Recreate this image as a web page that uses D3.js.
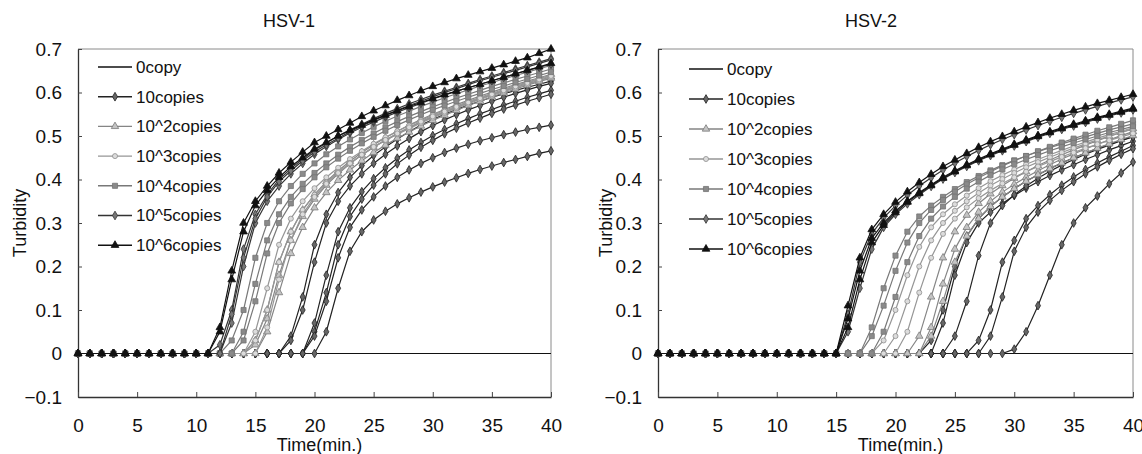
<!DOCTYPE html>
<html>
<head>
<meta charset="utf-8">
<script src="https://cdn.jsdelivr.net/npm/d3@7"></script>
<style>
  body { margin: 0; background: #fff; }
  text { font-family: Arial, "Liberation Sans", sans-serif; fill: #111; }
</style>
</head>
<body>
<svg id="chart" width="1142" height="454"></svg>
<script>

// Time points (min.), one reading per minute
var minutes = [0,1,2,3,4,5,6,7,8,9,10,11,12,13,14,15,16,17,18,19,20,
               21,22,23,24,25,26,27,28,29,30,31,32,33,34,35,36,37,38,39,40];

var seriesNames = ["0copy", "10copies", "10^2copies", "10^3copies",
                   "10^4copies", "10^5copies", "10^6copies"];

var xTicks = [0, 5, 10, 15, 20, 25, 30, 35, 40];
var yTicks = [-0.1, 0, 0.1, 0.2, 0.3, 0.4, 0.5, 0.6, 0.7];

// ---------------- HSV-1 replicate curves ----------------
var hsv1Copy0 = [
  [0,0,0,0,0,0,0,0,0,0,0,0,0,0,0,0,0,0,0,0,0,0,0,0,0,0,0,0,0,0,0,0,0,0,0,0,0,0,0,0,0]
];
var hsv1Copy10 = [
  [0,0,0,0,0,0,0,0,0,0,0,0,0,0,0,0,0,0, 0.04,0.13,0.25,0.32,0.37,0.405,0.432,0.455,0.475,0.493,0.51,0.525,0.538,0.55,0.561,0.571,0.58,0.589,0.597,0.605,0.612,0.619,0.626],
  [0,0,0,0,0,0,0,0,0,0,0,0,0,0,0,0,0,0, 0.03,0.10,0.21,0.30,0.35,0.385,0.413,0.437,0.458,0.477,0.494,0.51,0.524,0.537,0.549,0.56,0.57,0.58,0.589,0.598,0.606,0.614,0.621],
  [0,0,0,0,0,0,0,0,0,0,0,0,0,0,0,0,0,0,0,0, 0.07,0.18,0.28,0.335,0.372,0.402,0.427,0.449,0.468,0.485,0.501,0.515,0.528,0.54,0.551,0.561,0.571,0.58,0.589,0.597,0.605],
  [0,0,0,0,0,0,0,0,0,0,0,0,0,0,0,0,0,0,0,0, 0.05,0.14,0.25,0.315,0.355,0.387,0.413,0.436,0.456,0.474,0.49,0.505,0.518,0.53,0.541,0.552,0.562,0.571,0.58,0.588,0.596],
  [0,0,0,0,0,0,0,0,0,0,0,0,0,0,0,0,0,0,0,0, 0.04,0.12,0.22,0.29,0.33,0.36,0.385,0.405,0.422,0.437,0.45,0.462,0.472,0.481,0.489,0.496,0.503,0.509,0.515,0.52,0.525],
  [0,0,0,0,0,0,0,0,0,0,0,0,0,0,0,0,0,0,0,0,0, 0.05,0.15,0.235,0.28,0.307,0.327,0.344,0.358,0.371,0.383,0.394,0.404,0.414,0.423,0.431,0.439,0.446,0.453,0.46,0.466]
];
var hsv1Copy1e2 = [
  [0,0,0,0,0,0,0,0,0,0,0,0,0,0,0, 0.03,0.10,0.21,0.28,0.33,0.365,0.395,0.42,0.442,0.462,0.48,0.496,0.511,0.525,0.538,0.55,0.561,0.572,0.582,0.592,0.601,0.61,0.618,0.626,0.634,0.642],
  [0,0,0,0,0,0,0,0,0,0,0,0,0,0,0, 0.02,0.08,0.18,0.26,0.315,0.355,0.387,0.413,0.436,0.456,0.474,0.49,0.505,0.519,0.532,0.544,0.555,0.566,0.576,0.586,0.595,0.604,0.612,0.62,0.628,0.636],
  [0,0,0,0,0,0,0,0,0,0,0,0,0,0,0,0, 0.05,0.14,0.23,0.29,0.335,0.37,0.398,0.422,0.443,0.462,0.479,0.495,0.509,0.523,0.536,0.548,0.559,0.57,0.58,0.59,0.599,0.608,0.617,0.625,0.633]
];
var hsv1Copy1e3 = [
  [0,0,0,0,0,0,0,0,0,0,0,0,0,0,0, 0.05,0.15,0.25,0.31,0.35,0.38,0.405,0.427,0.447,0.465,0.482,0.497,0.511,0.524,0.536,0.548,0.559,0.569,0.579,0.589,0.598,0.607,0.616,0.624,0.632,0.64],
  [0,0,0,0,0,0,0,0,0,0,0,0,0,0,0, 0.03,0.10,0.21,0.28,0.33,0.365,0.393,0.417,0.438,0.457,0.474,0.49,0.504,0.517,0.53,0.542,0.553,0.564,0.574,0.584,0.593,0.602,0.611,0.619,0.627,0.635],
  [0,0,0,0,0,0,0,0,0,0,0,0,0,0,0,0, 0.06,0.17,0.26,0.32,0.36,0.39,0.415,0.437,0.457,0.475,0.491,0.506,0.52,0.533,0.545,0.556,0.567,0.577,0.587,0.596,0.605,0.614,0.622,0.63,0.638]
];
var hsv1Copy1e4 = [
  [0,0,0,0,0,0,0,0,0,0,0,0,0, 0.03,0.10,0.22,0.30,0.35,0.385,0.413,0.437,0.458,0.476,0.492,0.507,0.521,0.534,0.546,0.557,0.568,0.578,0.588,0.597,0.606,0.615,0.623,0.631,0.639,0.647,0.655,0.662],
  [0,0,0,0,0,0,0,0,0,0,0,0,0,0, 0.05,0.16,0.26,0.32,0.36,0.39,0.415,0.437,0.457,0.475,0.491,0.506,0.52,0.533,0.545,0.556,0.567,0.577,0.587,0.596,0.605,0.614,0.622,0.63,0.638,0.646,0.654],
  [0,0,0,0,0,0,0,0,0,0,0,0,0,0, 0.03,0.12,0.23,0.30,0.345,0.378,0.405,0.428,0.448,0.466,0.483,0.498,0.512,0.525,0.537,0.549,0.56,0.57,0.58,0.589,0.598,0.607,0.615,0.623,0.631,0.639,0.647]
];
var hsv1Copy1e5 = [
  [0,0,0,0,0,0,0,0,0,0,0,0, 0.02,0.10,0.24,0.32,0.365,0.40,0.425,0.447,0.467,0.484,0.50,0.514,0.527,0.54,0.552,0.563,0.574,0.584,0.594,0.603,0.612,0.621,0.63,0.638,0.646,0.654,0.662,0.67,0.678],
  [0,0,0,0,0,0,0,0,0,0,0,0,0, 0.07,0.20,0.30,0.35,0.385,0.413,0.437,0.458,0.476,0.492,0.507,0.52,0.532,0.544,0.555,0.565,0.575,0.585,0.594,0.603,0.611,0.619,0.627,0.635,0.643,0.651,0.658,0.665],
  [0,0,0,0,0,0,0,0,0,0,0,0,0, 0.09,0.22,0.31,0.36,0.395,0.42,0.443,0.463,0.48,0.495,0.51,0.523,0.536,0.548,0.559,0.57,0.58,0.59,0.60,0.609,0.618,0.627,0.635,0.643,0.651,0.659,0.667,0.675]
];
var hsv1Copy1e6 = [
  [0,0,0,0,0,0,0,0,0,0,0,0, 0.06,0.19,0.30,0.35,0.385,0.415,0.44,0.463,0.485,0.50,0.515,0.53,0.545,0.558,0.57,0.582,0.593,0.604,0.614,0.623,0.632,0.64,0.648,0.656,0.664,0.672,0.68,0.69,0.70],
  [0,0,0,0,0,0,0,0,0,0,0,0, 0.05,0.17,0.28,0.34,0.375,0.405,0.43,0.45,0.47,0.485,0.50,0.513,0.525,0.537,0.548,0.558,0.568,0.577,0.586,0.595,0.603,0.611,0.619,0.627,0.635,0.643,0.651,0.659,0.667]
];

// ---------------- HSV-2 replicate curves ----------------
var hsv2Copy0 = [
  [0,0,0,0,0,0,0,0,0,0,0,0,0,0,0,0,0,0,0,0,0,0,0,0,0,0,0,0,0,0,0,0,0,0,0,0,0,0,0,0,0]
];
var hsv2Copy10 = [
  [0,0,0,0,0,0,0,0,0,0,0,0,0,0,0,0,0,0,0,0,0,0,0, 0.03,0.10,0.20,0.27,0.31,0.338,0.36,0.379,0.396,0.411,0.425,0.438,0.45,0.461,0.471,0.481,0.49,0.499],
  [0,0,0,0,0,0,0,0,0,0,0,0,0,0,0,0,0,0,0,0,0,0,0,0, 0.07,0.18,0.255,0.30,0.325,0.345,0.363,0.38,0.395,0.409,0.422,0.434,0.446,0.457,0.468,0.478,0.488],
  [0,0,0,0,0,0,0,0,0,0,0,0,0,0,0,0,0,0,0,0,0,0,0,0,0, 0.04,0.12,0.225,0.30,0.34,0.365,0.385,0.403,0.419,0.433,0.446,0.458,0.469,0.479,0.489,0.498],
  [0,0,0,0,0,0,0,0,0,0,0,0,0,0,0,0,0,0,0,0,0,0,0,0,0,0,0, 0.03,0.10,0.21,0.26,0.31,0.34,0.365,0.387,0.406,0.423,0.438,0.452,0.465,0.478],
  [0,0,0,0,0,0,0,0,0,0,0,0,0,0,0,0,0,0,0,0,0,0,0,0,0,0,0,0, 0.04,0.13,0.235,0.29,0.325,0.352,0.375,0.395,0.413,0.429,0.444,0.458,0.471],
  [0,0,0,0,0,0,0,0,0,0,0,0,0,0,0,0,0,0,0,0,0,0,0,0,0,0,0,0,0,0, 0.01,0.05,0.11,0.18,0.25,0.30,0.335,0.362,0.39,0.415,0.44]
];
var hsv2Copy1e2 = [
  [0,0,0,0,0,0,0,0,0,0,0,0,0,0,0,0,0,0,0,0,0,0, 0.04,0.13,0.22,0.28,0.318,0.345,0.367,0.386,0.403,0.418,0.432,0.445,0.457,0.468,0.479,0.489,0.499,0.508,0.517],
  [0,0,0,0,0,0,0,0,0,0,0,0,0,0,0,0,0,0,0,0,0,0,0, 0.06,0.16,0.24,0.29,0.325,0.35,0.371,0.389,0.405,0.42,0.434,0.447,0.459,0.47,0.481,0.491,0.501,0.51],
  [0,0,0,0,0,0,0,0,0,0,0,0,0,0,0,0,0,0,0,0,0,0,0, 0.04,0.12,0.21,0.27,0.31,0.338,0.36,0.379,0.396,0.411,0.425,0.438,0.45,0.461,0.472,0.482,0.492,0.501]
];
var hsv2Copy1e3 = [
  [0,0,0,0,0,0,0,0,0,0,0,0,0,0,0,0,0,0,0, 0.03,0.10,0.18,0.245,0.29,0.32,0.343,0.363,0.38,0.396,0.41,0.423,0.435,0.446,0.457,0.467,0.477,0.486,0.495,0.503,0.511,0.519],
  [0,0,0,0,0,0,0,0,0,0,0,0,0,0,0,0,0,0,0,0, 0.04,0.12,0.20,0.26,0.30,0.328,0.35,0.369,0.386,0.401,0.415,0.428,0.44,0.451,0.462,0.472,0.482,0.491,0.50,0.508,0.516],
  [0,0,0,0,0,0,0,0,0,0,0,0,0,0,0,0,0,0,0,0,0, 0.05,0.14,0.22,0.275,0.31,0.336,0.357,0.375,0.391,0.405,0.418,0.43,0.441,0.452,0.462,0.472,0.481,0.49,0.498,0.506]
];
var hsv2Copy1e4 = [
  [0,0,0,0,0,0,0,0,0,0,0,0,0,0,0,0,0,0, 0.06,0.15,0.225,0.28,0.315,0.34,0.36,0.378,0.394,0.408,0.421,0.433,0.444,0.454,0.464,0.473,0.482,0.49,0.498,0.506,0.514,0.521,0.528],
  [0,0,0,0,0,0,0,0,0,0,0,0,0,0,0,0,0,0, 0.04,0.11,0.19,0.255,0.30,0.33,0.353,0.372,0.389,0.404,0.418,0.431,0.443,0.454,0.465,0.475,0.485,0.494,0.503,0.512,0.52,0.528,0.536],
  [0,0,0,0,0,0,0,0,0,0,0,0,0,0,0,0,0,0,0, 0.05,0.13,0.21,0.27,0.31,0.338,0.36,0.379,0.395,0.41,0.423,0.435,0.446,0.456,0.466,0.475,0.484,0.492,0.50,0.508,0.515,0.522]
];
var hsv2Copy1e5 = [
  [0,0,0,0,0,0,0,0,0,0,0,0,0,0,0,0, 0.09,0.21,0.275,0.312,0.34,0.364,0.385,0.404,0.422,0.438,0.453,0.467,0.48,0.492,0.503,0.514,0.524,0.534,0.543,0.552,0.56,0.568,0.576,0.583,0.59],
  [0,0,0,0,0,0,0,0,0,0,0,0,0,0,0,0, 0.05,0.15,0.24,0.29,0.32,0.344,0.365,0.384,0.401,0.416,0.43,0.443,0.455,0.466,0.477,0.487,0.497,0.506,0.515,0.523,0.531,0.539,0.546,0.553,0.56]
];
var hsv2Copy1e6 = [
  [0,0,0,0,0,0,0,0,0,0,0,0,0,0,0,0, 0.11,0.22,0.285,0.32,0.348,0.372,0.393,0.412,0.43,0.445,0.46,0.474,0.487,0.499,0.51,0.521,0.531,0.541,0.55,0.559,0.567,0.575,0.582,0.589,0.596],
  [0,0,0,0,0,0,0,0,0,0,0,0,0,0,0,0, 0.08,0.19,0.265,0.30,0.328,0.35,0.37,0.388,0.405,0.42,0.434,0.447,0.459,0.47,0.481,0.491,0.501,0.51,0.519,0.527,0.535,0.543,0.55,0.557,0.564],
  [0,0,0,0,0,0,0,0,0,0,0,0,0,0,0,0, 0.06,0.17,0.255,0.295,0.324,0.348,0.368,0.386,0.403,0.418,0.432,0.445,0.457,0.468,0.479,0.489,0.499,0.508,0.517,0.525,0.533,0.541,0.548,0.555,0.562]
];

// Look of each concentration (same order as seriesNames)
var seriesStyle = [
  { line: "#111", symbol: null },
  { line: "#222", fill: "#666", stroke: "#222", symbol: d3.symbolDiamond, size: 22 },
  { line: "#858585", fill: "#c4c4c4", stroke: "#7a7a7a", symbol: d3.symbolTriangle, size: 24 },
  { line: "#969696", fill: "#dcdcdc", stroke: "#8e8e8e", symbol: d3.symbolCircle, size: 20 },
  { line: "#787878", fill: "#8a8a8a", stroke: "#757575", symbol: d3.symbolSquare, size: 26 },
  { line: "#333", fill: "#777", stroke: "#333", symbol: d3.symbolDiamond, size: 22 },
  { line: "#111", fill: "#111", stroke: "#111", symbol: d3.symbolTriangle, size: 26 }
];

var panels = [
  { title: "HSV-1", left: 78, right: 551, titleX: 263, yLabelX: 20, legendX: 98, legendY: 67, legendStep: 29.7,
    curves: [hsv1Copy0, hsv1Copy10, hsv1Copy1e2, hsv1Copy1e3, hsv1Copy1e4, hsv1Copy1e5, hsv1Copy1e6] },
  { title: "HSV-2", left: 658, right: 1133, titleX: 845, yLabelX: 606, legendX: 689, legendY: 69, legendStep: 30,
    curves: [hsv2Copy0, hsv2Copy10, hsv2Copy1e2, hsv2Copy1e3, hsv2Copy1e4, hsv2Copy1e5, hsv2Copy1e6] }
];

var plotTop = 49, plotBottom = 397;
var svg = d3.select("#chart");

panels.forEach(function(p) { drawPanel(svg, p); });

function drawPanel(svg, p) {
    var x = d3.scaleLinear().domain([0, 40]).range([p.left, p.right]);
    var y = d3.scaleLinear().domain([-0.1, 0.7]).range([plotBottom, plotTop]);
    var g = svg.append("g");

    // Light frame on top and right
    g.append("path")
        .attr("d", "M" + p.left + "," + plotTop + "H" + p.right + "V" + plotBottom)
        .attr("fill", "none")
        .attr("stroke", "#8a8a8a")
        .attr("stroke-width", 1);

    // Axes with inward ticks
    var yAxis = g.append("g")
        .attr("transform", "translate(" + p.left + ",0)")
        .call(d3.axisLeft(y).tickValues(yTicks).tickSize(-4).tickSizeOuter(0).tickPadding(16)
            .tickFormat(function(d) { return d === 0 ? "0" : d3.format(".1f")(d); }));
    var xAxis = g.append("g")
        .attr("transform", "translate(0," + plotBottom + ")")
        .call(d3.axisBottom(x).tickValues(xTicks).tickSize(-5).tickSizeOuter(0).tickPadding(22));

    [yAxis, xAxis].forEach(function(a) {
        a.select(".domain").attr("stroke", "#333").attr("stroke-width", 1.3);
        a.selectAll(".tick line").attr("stroke", "#444");
        a.selectAll("text").attr("font-size", 19).attr("fill", "#111")
            .attr("font-family", "Arial, 'Liberation Sans', sans-serif");
    });

    // Curves, lightest concentrations first so the dark ones sit on top
    var line = d3.line()
        .x(function(d, i) { return x(minutes[i]); })
        .y(function(d) { return y(d); });

    p.curves.forEach(function(group, s) {
        var st = seriesStyle[s];
        group.forEach(function(values) {
            if (values.length !== minutes.length) {
                console.error(p.title + " " + seriesNames[s] + " has " + values.length + " values");
            }
            g.append("path")
                .datum(values)
                .attr("d", line)
                .attr("fill", "none")
                .attr("stroke", st.line)
                .attr("stroke-width", 1.2);

            if (st.symbol) {
                g.selectAll(null)
                    .data(values)
                    .enter().append("path")
                    .attr("transform", function(d, i) { return "translate(" + x(minutes[i]) + "," + y(d) + ")"; })
                    .attr("d", d3.symbol().type(st.symbol).size(st.size))
                    .attr("fill", st.fill)
                    .attr("stroke", st.stroke)
                    .attr("stroke-width", 0.8);
            }
        });
    });

    // Title and axis labels
    g.append("text")
        .attr("x", p.titleX).attr("y", 27)
        .attr("font-size", 18)
        .text(p.title);

    g.append("text")
        .attr("x", (p.left + p.right) / 2 + 5).attr("y", 451)
        .attr("text-anchor", "middle")
        .attr("font-size", 18)
        .text("Time(min.)");

    g.append("text")
        .attr("transform", "translate(" + p.yLabelX + "," + (plotTop + plotBottom) / 2 + ") rotate(-90)")
        .attr("text-anchor", "middle")
        .attr("dy", "0.35em")
        .attr("font-size", 18)
        .text("Turbidity");

    // Legend
    seriesNames.forEach(function(name, s) {
        var st = seriesStyle[s];
        var ly = p.legendY + s * p.legendStep;
        g.append("line")
            .attr("x1", p.legendX).attr("x2", p.legendX + 34)
            .attr("y1", ly).attr("y2", ly)
            .attr("stroke", st.line)
            .attr("stroke-width", 1.4);
        if (st.symbol) {
            g.append("path")
                .attr("transform", "translate(" + (p.legendX + 17) + "," + ly + ")")
                .attr("d", d3.symbol().type(st.symbol).size(st.size))
                .attr("fill", st.fill)
                .attr("stroke", st.stroke)
                .attr("stroke-width", 0.8);
        }
        g.append("text")
            .attr("x", p.legendX + 38).attr("y", ly)
            .attr("dy", "0.35em")
            .attr("font-size", 17)
            .text(name);
    });
}
</script>
</body>
</html>
